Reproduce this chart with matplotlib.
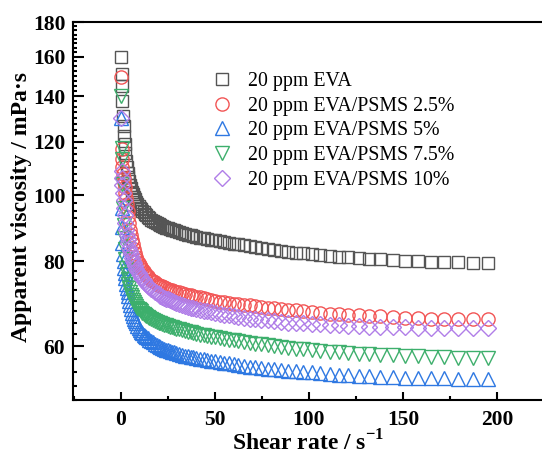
import numpy as np
import matplotlib
matplotlib.use("Agg")
import matplotlib.pyplot as plt
from matplotlib.ticker import FixedLocator, FixedFormatter, MultipleLocator, NullFormatter

# shear rate (s^-1), shared by all samples
shear_rate = [0.1, 0.3, 0.5, 0.8, 1.1, 1.4, 1.7, 2.0, 2.4, 2.8, 3.2, 3.6, 4.0, 4.5,
              5.0, 5.5, 6.0, 6.5, 7.0, 7.6, 8.2, 8.8, 9.4, 10, 10.6, 11.3, 12, 12.8,
              13.5, 14.2, 15, 16, 17, 18, 19, 20, 21, 22, 23, 24, 25, 26, 27, 28,
              29.5, 31, 32.5, 34, 35.5, 37, 38.5, 40, 42, 44, 46, 48, 50, 52.5, 55,
              57.5, 60, 62.5, 65.5, 68.5, 71.5, 74.5, 78, 81.5, 85, 89, 93, 97,
              101.5, 106, 111, 116, 121, 126.5, 132, 138, 144.5, 151, 158, 165,
              172, 179.5, 187, 195]

# apparent viscosity (mPa.s)
eva = [160, 151, 145, 137.5, 131, 126.5, 122.5, 119, 115.5, 112.5, 110, 108, 106.5, 105,
       103.5, 102.4, 101.3, 100.4, 99.6, 98.8, 97.8, 97.2, 96.6, 96, 95.5, 95, 94.5, 94,
       93.5, 93.1, 92.5, 92.1, 91.7, 91.3, 91, 90.7, 90.4, 90.2, 89.9, 89.7, 89.5, 89.3,
       89.1, 88.9, 88.6, 88.3, 88.1, 87.9, 87.6, 87.4, 87.2, 87, 86.7, 86.5, 86.3, 86.1,
       85.9, 85.6, 85.4, 85.1, 84.9, 84.7, 84.5, 84.2, 83.9, 83.6, 83.3, 83.1, 82.8,
       82.6, 82.4, 82.2, 81.9, 81.7, 81.5, 81.3, 81.1, 80.9, 80.7, 80.5, 80.4, 80.2,
       80.0, 79.9, 79.8, 79.7, 79.6, 79.5]
psms_2_5 = [149.5, 117, 113, 110, 107.5, 106, 104.5, 103, 101, 99, 97, 95, 93, 91,
            89, 87.5, 86, 84.7, 83.5, 82.3, 81.2, 80.3, 79.6, 79, 78.5, 77.9, 77.3, 76.8,
            76.4, 76, 75.6, 75.2, 74.8, 74.5, 74.2, 73.9, 73.7, 73.5, 73.3, 73.1, 72.9,
            72.7, 72.5, 72.4, 72.2, 72.0, 71.8, 71.6, 71.4, 71.3, 71.1, 71.0, 70.8, 70.6,
            70.4, 70.2, 70.0, 69.8, 69.6, 69.5, 69.3, 69.2, 69.0, 68.9, 68.7, 68.6, 68.4,
            68.2, 68.1, 67.9, 67.8, 67.6, 67.4, 67.2, 67.0, 66.9, 66.7, 66.6, 66.5, 66.4,
            66.2, 66.1, 66.0, 65.9, 65.9, 65.8, 65.8, 65.7]
psms_5 = [130, 96, 90, 85, 82, 80, 78.3, 77, 75.5, 74.2, 73, 72, 71.1, 70,
          68.9, 68.0, 67.2, 66.5, 65.9, 65.3, 64.8, 64.3, 63.8, 63.4, 63.0, 62.7, 62.4,
          62.1, 61.8, 61.6, 61.3, 61.0, 60.8, 60.5, 60.3, 60.1, 59.9, 59.7, 59.5, 59.3,
          59.2, 59.0, 58.9, 58.8, 58.6, 58.4, 58.3, 58.1, 58.0, 57.9, 57.8, 57.7, 57.5,
          57.4, 57.2, 57.1, 57.0, 56.8, 56.7, 56.6, 56.4, 56.3, 56.2, 56.0, 55.9, 55.8,
          55.6, 55.5, 55.4, 55.2, 55.1, 55.0, 54.9, 54.8, 54.6, 54.5, 54.4, 54.3, 54.2,
          54.1, 54.0, 53.9, 53.9, 53.8, 53.8, 53.7, 53.7, 53.6]
psms_7_5 = [140, 117.5, 113, 104, 96, 90.5, 86.5, 83.5, 80.5, 78.3, 76.6, 75.3, 74.2,
            73.1, 72.2, 71.4, 70.8, 70.2, 69.7, 69.2, 68.8, 68.4, 68.1, 67.8, 67.5, 67.2,
            67.0, 66.7, 66.5, 66.3, 66.1, 65.8, 65.6, 65.4, 65.2, 65.0, 64.8, 64.7, 64.5,
            64.4, 64.2, 64.1, 64.0, 63.8, 63.7, 63.5, 63.3, 63.2, 63.0, 62.9, 62.7, 62.6,
            62.4, 62.3, 62.1, 62.0, 61.8, 61.6, 61.5, 61.3, 61.2, 61.0, 60.9, 60.7, 60.5,
            60.4, 60.2, 60.0, 59.9, 59.7, 59.5, 59.4, 59.2, 59.0, 58.9, 58.8, 58.6, 58.5,
            58.4, 58.3, 58.2, 58.1, 58.0, 57.9, 57.8, 57.7, 57.7, 57.6]
psms_10 = [130, 108.5, 106, 103.5, 101, 98.5, 96, 93.5, 91, 89, 87.5, 86.2, 85, 83.8,
           82.8, 81.9, 81.0, 80.2, 79.5, 78.7, 78.0, 77.4, 76.9, 76.4, 75.9, 75.4, 75.0,
           74.5, 74.1, 73.7, 73.3, 72.9, 72.5, 72.1, 71.8, 71.5, 71.2, 71.0, 70.7, 70.5,
           70.3, 70.1, 69.9, 69.7, 69.5, 69.2, 69.0, 68.8, 68.6, 68.4, 68.2, 68.1, 67.9,
           67.7, 67.5, 67.3, 67.2, 67.0, 66.8, 66.6, 66.4, 66.3, 66.1, 65.9, 65.8, 65.6,
           65.5, 65.3, 65.2, 65.0, 64.9, 64.8, 64.7, 64.6, 64.5, 64.4, 64.3, 64.2, 64.1,
           64.1, 64.0, 64.0, 63.9, 63.9, 63.9, 63.8, 63.8, 63.8]

labels = ["20 ppm EVA", "20 ppm EVA/PSMS 2.5%", "20 ppm EVA/PSMS 5%",
          "20 ppm EVA/PSMS 7.5%", "20 ppm EVA/PSMS 10%"]
series = [eva, psms_2_5, psms_5, psms_7_5, psms_10]
markers = ["s", "o", "^", "v", "D"]
msizes = [8, 9.5, 10, 10, 8]
colors = ["#555555", "#F25555", "#2E78E2", "#3DAF6C", "#B07EE8"]

plt.rcParams["font.family"] = "Liberation Serif"
plt.rcParams["mathtext.fontset"] = "custom"
plt.rcParams["mathtext.rm"] = "Liberation Serif:bold"
plt.rcParams["mathtext.bf"] = "Liberation Serif:bold"

fig = plt.figure(figsize=(5.42, 4.54), dpi=100)
ax = fig.add_axes([73 / 542, 1 - 400 / 454, 471 / 542, 378 / 454])

for y, lab, m, ms, c in zip(series, labels, markers, msizes, colors):
    ax.plot(shear_rate, y, linestyle="none", marker=m, markersize=ms,
            markerfacecolor="none", markeredgecolor=c, markeredgewidth=1.0,
            label=lab)

ax.set_yscale("log")
ax.set_xlim(-25.5, 225)
ax.set_ylim(50, 180)

ax.xaxis.set_major_locator(MultipleLocator(50))
ax.xaxis.set_minor_locator(MultipleLocator(25))
yt = [60, 80, 100, 120, 140, 160, 180]
ax.yaxis.set_major_locator(FixedLocator(yt))
ax.yaxis.set_major_formatter(FixedFormatter([str(v) for v in yt]))
ax.yaxis.set_minor_locator(FixedLocator(np.arange(50, 181, 2.5)))
ax.yaxis.set_minor_formatter(NullFormatter())

ax.tick_params(which="both", direction="in", width=1.5, top=False, right=False)
ax.tick_params(which="major", length=6, labelsize=15.5, pad=7)
ax.tick_params(axis="y", which="major", length=8, pad=5.5)
ax.tick_params(which="minor", length=3)
for lbl in ax.get_xticklabels() + ax.get_yticklabels():
    lbl.set_fontweight("bold")
for s in ax.spines.values():
    s.set_linewidth(1.5)

ax.set_xlabel("Shear rate / s$^{\\mathbf{-1}}$", fontsize=17, fontweight="bold", labelpad=0)
ax.set_ylabel("Apparent viscosity / mPa·s", fontsize=17, fontweight="bold", labelpad=0)
ax.yaxis.set_label_coords(-0.088, 0.51)

ax.legend(loc="upper left", bbox_to_anchor=(0.292, 0.868), frameon=False, fontsize=14.3,
          handletextpad=0.7, labelspacing=0.29, borderaxespad=0, handlelength=1.2,
          borderpad=0)

fig.savefig("out.png", dpi=100)
